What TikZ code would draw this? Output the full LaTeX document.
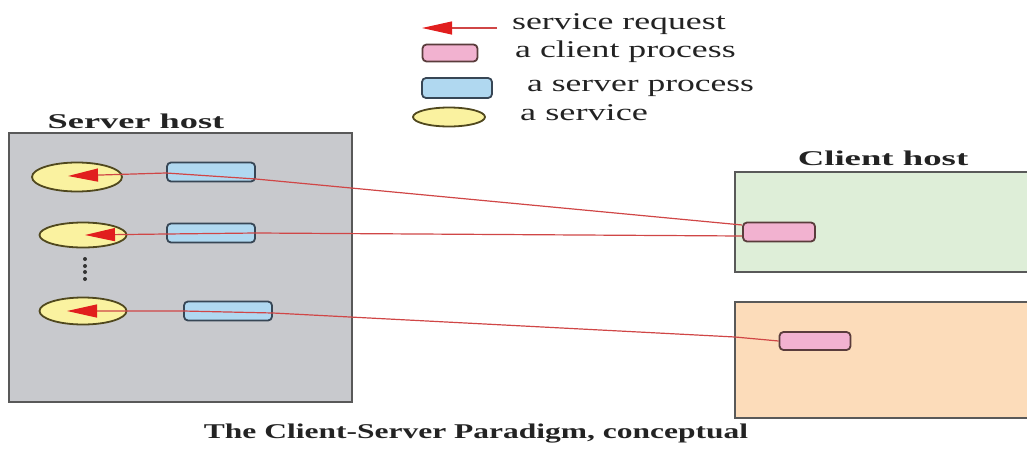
\documentclass[tikz,border=0pt]{standalone}
\usepackage{fontspec}
\setmainfont{Liberation Serif}
\usetikzlibrary{shapes.geometric,arrows.meta}
\definecolor{hostgray}{RGB}{200,201,205}
\definecolor{hostgreen}{RGB}{222,238,216}
\definecolor{hostorange}{RGB}{252,220,186}
\definecolor{svcfill}{RGB}{250,242,160}
\definecolor{svcline}{RGB}{80,72,30}
\definecolor{spfill}{RGB}{176,216,240}
\definecolor{spline}{RGB}{55,70,85}
\definecolor{cpfill}{RGB}{242,178,208}
\definecolor{cpline}{RGB}{90,60,60}
\definecolor{reqline}{RGB}{208,70,70}
\definecolor{reqhead}{RGB}{225,30,30}
\definecolor{txt}{RGB}{35,35,35}
\begin{document}
\begin{tikzpicture}[x=1pt,y=-1pt,
  hostbox/.style={draw=black!65,line width=1.6pt,inner sep=0pt,rectangle},
  service/.style={ellipse,draw=svcline,fill=svcfill,line width=1.8pt,inner sep=0pt},
  srvproc/.style={rectangle,rounded corners=4pt,draw=spline,fill=spfill,line width=1.8pt,inner sep=0pt,minimum width=88pt,minimum height=19pt},
  cliproc/.style={rectangle,rounded corners=4pt,draw=cpline,fill=cpfill,line width=1.8pt,inner sep=0pt,minimum width=72pt,minimum height=19pt},
  req/.style={draw=reqline,line width=1.2pt},
  reqarrow/.style={req,-{Triangle[length=30pt,width=13pt,fill=reqhead,color=reqhead]}},
  boldlbl/.style={inner sep=0pt,anchor=base,text=txt,font=\fontsize{21}{25}\selectfont\bfseries},
  leglbl/.style={inner sep=0pt,anchor=base west,text=txt,font=\fontsize{24}{28}\selectfont},
  dot/.style={circle,fill=black!80,inner sep=0pt,minimum size=4pt}
]
\useasboundingbox (0,0) rectangle (1027,450);
% hosts
\node[hostbox,fill=hostgray,minimum width=343pt,minimum height=269pt] (server) at (180.5,267.5) {};
\node[hostbox,fill=hostgreen,minimum width=300pt,minimum height=100pt] (clientA) at (885,222) {};
\node[hostbox,fill=hostorange,minimum width=300pt,minimum height=116pt] (clientB) at (885,360) {};
% labels
\node[boldlbl] (srvlbl) at (136,128) {\scalebox{1.73}[1]{Server host}};
\node[boldlbl] (clilbl) at (883,165) {\scalebox{1.75}[1]{Client host}};
\node[boldlbl] (caption) at (476,438) {\scalebox{1.5}[1]{The Client-Server Paradigm, conceptual}};
% services
\node[service,minimum width=90pt,minimum height=29pt] (e1) at (77,177) {};
\node[service,minimum width=87pt,minimum height=25pt] (e2) at (83,235) {};
\node[service,minimum width=87pt,minimum height=27pt] (e3) at (83,311) {};
\node[dot] (d1) at (85,259) {};
\node[dot] (d2) at (85,266) {};
\node[dot] (d3) at (85,272) {};
\node[dot] (d4) at (85,279) {};
% server processes
\node[srvproc] (s1) at (211,172) {};
\node[srvproc] (s2) at (211,233) {};
\node[srvproc] (s3) at (228,311) {};
% client processes
\node[cliproc] (c1) at (779,232) {};
\node[cliproc,minimum width=71pt,minimum height=18pt] (c2) at (815,341) {};
% coordinates for the requests
\coordinate (t1) at (68,176);
\coordinate (t2) at (85,235);
\coordinate (t3) at (67,311);
\coordinate (k3) at (735,337);
% requests
\draw[reqarrow] ([yshift=7pt]c1.west) -- ([yshift=-7pt]s1.east) -- ([yshift=-1pt]s1.west) -- (t1);
\draw[reqarrow] ([yshift=-4pt]c1.west) -- (s2.east) -- ([yshift=-1pt]s2.west) -- (t2);
\draw[reqarrow] (c2.west) -- (k3) -- ([yshift=-2pt]s3.east) -- (s3.west) -- (t3);
% legend
\coordinate (la) at (497,28);
\coordinate (lb) at (422,28);
\draw[reqarrow] (la) -- (lb);
\node[leglbl] (lt1) at (512,29) {\scalebox{1.49}[1]{service request}};
\node[cliproc,minimum width=55pt,minimum height=17pt] (lc) at (450,53) {};
\node[leglbl] (lt2) at (515,57) {\scalebox{1.49}[1]{a client process}};
\node[srvproc,minimum width=70pt,minimum height=20pt] (ls) at (457,88) {};
\node[leglbl] (lt3) at (527,91) {\scalebox{1.48}[1]{a server process}};
\node[service,minimum width=72pt,minimum height=19pt] (le) at (449,117) {};
\node[leglbl] (lt4) at (520,120) {\scalebox{1.51}[1]{a service}};
\end{tikzpicture}
\end{document}
